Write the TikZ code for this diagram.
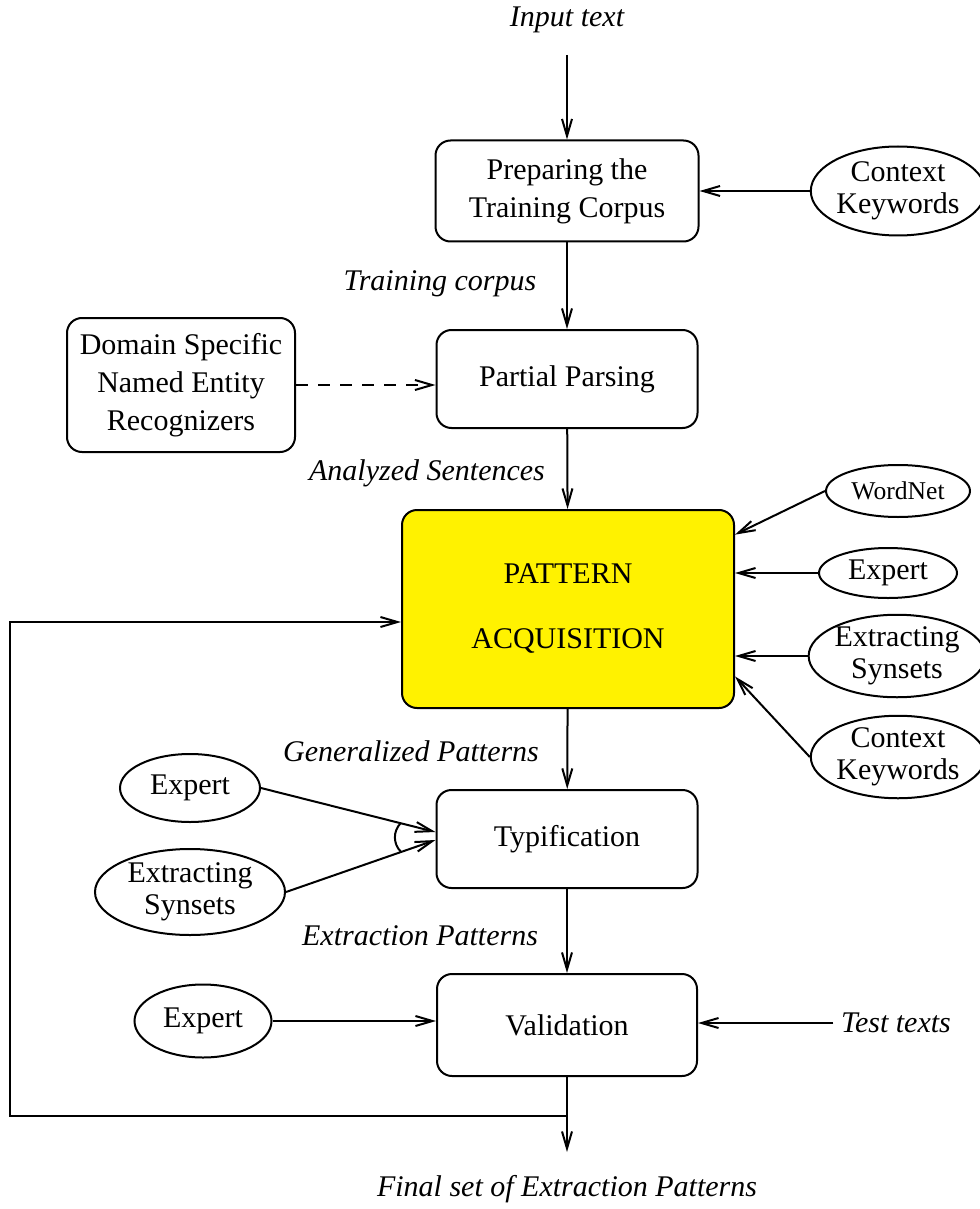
\documentclass[tikz,border=0pt]{standalone}
\usepackage{fontspec}
\setmainfont{Liberation Serif}
\usetikzlibrary{arrows.meta,shapes.geometric,calc}

\begin{document}
\begin{tikzpicture}[x=0.5pt,y=-0.5pt,line width=1pt,
  font=\fontsize{15}{19}\selectfont,
  box/.style={draw,rounded corners=7.5pt,align=center,inner sep=0pt},
  oval/.style={draw,ellipse,align=center,inner sep=0pt,font=\fontsize{15}{16}\selectfont},
  lab/.style={font=\fontsize{15}{19}\selectfont\itshape},
  arr/.style={-{Straight Barb[length=8.5pt,width=5pt]}}]
\useasboundingbox (0,0) rectangle (979,1209);

\node (inp) at (567,20) [lab] {Input text};
\coordinate (in0) at (567,55);
\node (prep) at (567,191) [box,minimum width=131.5pt,minimum height=50.5pt] {Preparing the\\Training Corpus};
\node (ck1) at (898,191) [oval,minimum width=77.5pt,minimum height=44.5pt] {Context\\Keywords};
\node (trc) at (440,284) [lab] {Training corpus};
\node (part) at (567,379) [box,minimum width=130.5pt,minimum height=49pt] {Partial Parsing};
\node (dom) at (181,385) [box,minimum width=114pt,minimum height=67pt] {Domain Specific\\Named Entity\\Recognizers};
\node (ans) at (427,473) [lab] {Analyzed Sentences};

\node (pat) at (568,609) [box,fill=yellow,minimum width=166pt,minimum height=99pt] {PATTERN\\[13.5pt]ACQUISITION};
\node (wn) at (898,491) [oval,font=\fontsize{12.8}{15}\selectfont,minimum width=72pt,minimum height=26pt] {WordNet};
\node (ex1) at (888,573) [oval,minimum width=69pt,minimum height=25pt] {Expert};
\node (es1) at (897,656) [oval,minimum width=80.5pt,minimum height=39pt] {Extracting\\Synsets};
\node (ck2) at (898,757) [oval,minimum width=79pt,minimum height=37pt] {Context\\Keywords};

\node (gen) at (411,751) [lab] {Generalized Patterns};
\node (typ) at (567,839) [box,minimum width=130.5pt,minimum height=49pt] {Typification};
\node (ex2) at (190,788) [oval,minimum width=70pt,minimum height=34pt] {Expert};
\node (es2) at (190,892) [oval,minimum width=95pt,minimum height=43pt] {Extracting\\Synsets};
\coordinate (t1) at ($(typ.west)+(0,-7)$);
\coordinate (t2) at ($(typ.west)+(0,1)$);

\node (exp) at (420,936) [lab] {Extraction Patterns};
\node (val) at (567,1025) [box,minimum width=130pt,minimum height=51pt] {Validation};
\node (ex3) at (203,1021) [oval,minimum width=68.5pt,minimum height=36.5pt] {Expert};
\node (tst) at (896,1023) [lab] {Test texts};

\coordinate (fb) at (567,1116);
\coordinate (lp) at (10,1116);
\coordinate (fout) at (567,1152);
\node (fin) at (567,1189) [lab] {Final set of Extraction Patterns};

\draw[arr] (in0) -- (prep);
\draw[arr] (ck1.west) -- (ck1.west -| prep.east);
\draw[arr] (prep) -- (part);
\draw[arr,dashed,dash pattern=on 6pt off 5pt] (dom.east) -- (dom.east -| part.west);
\draw[arr] (part) -- (pat);
\draw[arr] (wn.west) -- (pat.24);
\draw[arr] (ex1.west) -- (ex1.west -| pat.east);
\draw[arr] (es1.west) -- (es1.west -| pat.east);
\draw[arr] (ck2.west) -- (pat.-22);
\draw[arr] (pat) -- (typ);
\draw[arr] (ex2.east) -- (t1);
\draw[arr] (es2.east) -- (t2);
\draw ($(ex2.east)!0.8!(t1)$) to[bend right=45] ($(es2.east)!0.77!(t2)$);
\draw[arr] (typ) -- (val);
\draw[arr] (ex3.east) -- (ex3.east -| val.west);
\draw[arr] (tst.west) -- (tst.west -| val.east);
\draw[arr] (val) -- (fout);
\draw[arr] (fb) -- (lp) |- ($(pat.west)+(0,13)$);
\end{tikzpicture}
\end{document}
